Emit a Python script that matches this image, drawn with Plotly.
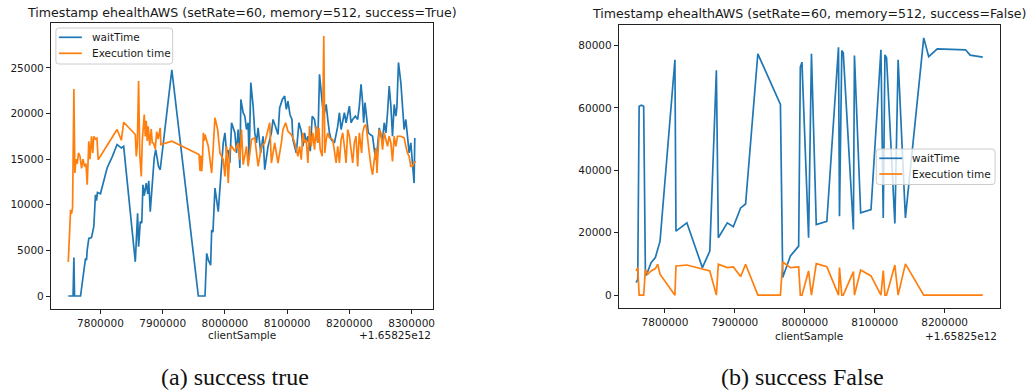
import plotly.graph_objects as go

# ---- sample timestamps are offsets (ms) from BASE_TS ----
BASE_TS_LABEL = "+1.65825e12"

# Left panel: success=True
TRUE_WAIT_X = [
    7748300, 7756000, 7757300, 7758400, 7768000, 7770700, 7774400, 7776000, 7777600, 7778700,
    7781300, 7785600, 7789300, 7792000, 7793600, 7795200, 7800000, 7810700, 7819200, 7826700,
    7833600, 7837300, 7856000, 7859700, 7861300, 7864000, 7866400, 7868300, 7870400, 7873600,
    7876000, 7877600, 7880000, 7883700, 7886400, 7888800, 7891200, 7893300, 7896000, 7914700,
    7957300, 7968000, 7970700, 7973600, 7977100, 7978700, 7980800, 7984000, 7989300, 7993600,
    7997300, 8000000, 8002700, 8005300, 8008000, 8010700, 8016000, 8018700, 8021300, 8024000,
    8025600, 8029300, 8032000, 8034700, 8037300, 8038900, 8041600, 8045300, 8048000, 8050700,
    8053300, 8057600, 8061300, 8064000, 8069300, 8074700, 8077300, 8081100, 8085300, 8088000,
    8092300, 8096000, 8098700, 8101300, 8104500, 8107700, 8109300, 8114700, 8118900, 8122700,
    8125300, 8128000, 8130700, 8133300, 8137100, 8140300, 8144000, 8146700, 8149300, 8152000,
    8154700, 8157300, 8160000, 8162700, 8165300, 8168000, 8170700, 8176000, 8181300, 8184000,
    8186700, 8189300, 8192000, 8194700, 8200000, 8202700, 8205300, 8209600, 8213300, 8216000,
    8218700, 8221300, 8222900, 8225100, 8227700, 8230400, 8233600, 8237300, 8240000, 8242700,
    8245300, 8248000, 8250700, 8253300, 8256000, 8258700, 8261300, 8264000, 8266700, 8269300,
    8272000, 8274700, 8276300, 8278900, 8282700, 8285300, 8288000, 8290700, 8293300, 8296000,
    8298700, 8301300, 8304000, 8305100,
]
TRUE_WAIT = [
    0, 0, 4220, 0, 0, 1360, 3000, 4120, 3930, 5030,
    6320, 6400, 7600, 11090, 10450, 11350, 11200, 14030, 15300, 16600,
    16230, 16410, 3750, 9070, 5400, 8150, 8000, 12190, 11000, 12380,
    11200, 12630, 9250, 12380, 15130, 16050, 15000, 14200, 13840, 24780,
    0, 0, 4670, 3900, 3380, 7230, 7000, 11830, 9250, 13480,
    16780, 17880, 15680, 16000, 14580, 18990, 17880, 15680, 18250, 14030,
    21550, 20090, 19710, 18250, 18990, 14950, 23390, 20820, 17880, 16780,
    18430, 15680, 17510, 13840, 16410, 17880, 19350, 18610, 17700, 20640,
    21550, 21920, 20460, 21370, 19900, 19350, 17150, 15680, 19000, 18070,
    16410, 17880, 16780, 17510, 15870, 19710, 19350, 17880, 16780, 24310,
    22650, 20460, 20090, 21000, 19350, 17880, 17150, 16780, 18610, 20090,
    18250, 19350, 20090, 18990, 20820, 18990, 19350, 19720, 19350, 20820,
    23200, 21190, 19000, 21190, 19350, 17880, 17700, 17510, 16050, 14950,
    16410, 18430, 17510, 17150, 18990, 17880, 20090, 23020, 20820, 17510,
    21000, 19710, 20640, 25590, 23390, 20820, 18250, 19350, 17510, 15680,
    16780, 14950, 12380, 17330,
]

TRUE_EXEC_X = [
    7748300, 7750400, 7752000, 7753600, 7755200, 7757300, 7758900, 7760800, 7762700, 7764800,
    7767200, 7769600, 7772000, 7774400, 7776800, 7778700, 7781300, 7783200, 7785600, 7787700,
    7789300, 7792000, 7794400, 7796300, 7826700, 7833600, 7837300, 7856000, 7857600, 7859200,
    7861300, 7863200, 7865600, 7867200, 7868800, 7870400, 7872000, 7873600, 7875200, 7876800,
    7879200, 7881600, 7883200, 7885300, 7888000, 7890400, 7892800, 7896000, 7897100, 7914700,
    7958400, 7960000, 7961300, 7962700, 7964000, 7965300, 7966900, 7968000, 7973300, 7978700,
    7981300, 7984000, 7988300, 7992000, 7997300, 8000000, 8002700, 8005300, 8008000, 8010700,
    8016000, 8021300, 8024000, 8026700, 8029300, 8034700, 8037300, 8042700, 8048000, 8053300,
    8058700, 8064000, 8072000, 8074700, 8080000, 8085300, 8090700, 8093300, 8097600, 8101300,
    8106700, 8110400, 8113600, 8117300, 8120000, 8122700, 8125300, 8128000, 8130700, 8133300,
    8136000, 8138700, 8141300, 8144000, 8146700, 8149300, 8150900, 8153100, 8156300, 8158900,
    8160500, 8162700, 8165300, 8168000, 8173300, 8178700, 8181300, 8184000, 8186700, 8189300,
    8192000, 8194700, 8197300, 8200000, 8205300, 8208000, 8210700, 8213300, 8216000, 8217600,
    8219700, 8221300, 8224000, 8226700, 8229300, 8232000, 8234700, 8237300, 8240000, 8242700,
    8244300, 8246400, 8248000, 8250700, 8253300, 8256000, 8258700, 8261300, 8264000, 8266700,
    8269300, 8272000, 8274700, 8277300, 8282700, 8288000, 8290700, 8293300, 8296000, 8298700,
    8301300, 8304000, 8306700,
]
TRUE_EXEC = [
    3745, 7500, 9440, 9000, 9700, 22700, 13480, 15000, 14500, 15680,
    15300, 14000, 15000, 14200, 14500, 12190, 16960, 15000, 17500, 15680,
    17500, 17200, 17300, 14940, 18250, 17070, 19050, 17700, 15300, 16500,
    23570, 15500, 13100, 17000, 18500, 19900, 17500, 19200, 17000, 18600,
    16500, 18300, 16800, 16780, 16100, 18000, 17200, 18430, 16600, 16960,
    15500, 13700, 15400, 13650, 15000, 17880, 17000, 17700, 16410, 13480,
    16410, 19540, 18250, 15680, 14950, 13110, 16410, 12380, 16050, 16410,
    15870, 16780, 14950, 18250, 14400, 16410, 14220, 17150, 17330, 14220,
    16410, 16780, 18990, 14580, 16780, 14580, 16780, 18250, 18990, 18060,
    17700, 17150, 16410, 15310, 16410, 14940, 17880, 16780, 17150, 14580,
    18620, 16410, 17880, 16050, 18620, 16780, 18430, 16050, 15310, 28500,
    15680, 17150, 17880, 17330, 17150, 14580, 16410, 14580, 17150, 17880,
    16410, 14580, 18250, 17510, 14580, 16780, 17510, 14200, 17880, 17150,
    15680, 17880, 18610, 18800, 17510, 15680, 14200, 13290, 14940, 16230,
    13480, 16050, 18250, 17880, 16050, 17880, 17150, 16410, 17510, 16780,
    14760, 17510, 16410, 17510, 17510, 17330, 16410, 15680, 15310, 14200,
    14200, 14580, 14760,
]

# Right panel: success=False (shared sample times)
FALSE_X = [
    7758700, 7761000, 7763000, 7766300, 7769500, 7772000, 7775200, 7780100, 7786200, 7789500,
    7792900, 7814200, 7815700, 7831300, 7853500, 7864100, 7873500, 7876300, 7889100, 7897700,
    7908200, 7915300, 7932800, 7965100, 7968400, 7979400, 7991200, 7993600, 7995900, 8005400,
    8009500, 8016400, 8031500, 8048200, 8049600, 8052900, 8055000, 8069500, 8071000, 8079900,
    8094700, 8108900, 8112200, 8114600, 8116900, 8128800, 8133500, 8143900, 8170100, 8177200,
    8189500, 8229900, 8233200, 8236500, 8254500,
]
FALSE_WAIT = [
    4050, 5000, 60550, 60870, 60550, 6150, 7500, 10420, 12010, 14500,
    17310, 75430, 20500, 23170, 8820, 14120, 72030, 18390, 23170, 21900,
    27950, 29220, 77350, 61100, 5640, 12530, 15710, 73080, 74670, 18390,
    77350, 22630, 23680, 79460, 25270, 78400, 77700, 21030, 76810, 26350,
    27410, 78620, 24760, 77030, 76070, 22950, 75430, 24760, 82450, 76400,
    78940, 78620, 77860, 76930, 76270,
]
FALSE_EXEC = [
    7750, 8820, 0, 0, 0, 8290, 6690, 7750, 8500, 9880,
    6690, 0, 9340, 9660, 8300, 7750, 0, 9880, 8820, 9030,
    5960, 9880, 0, 0, 10610, 8820, 9030, 0, 0, 7750,
    0, 10090, 9130, 0, 8820, 0, 0, 7560, 0, 8070,
    6150, 0, 7870, 0, 0, 9660, 0, 10010, 0, 0,
    0, 0, 0, 0, 0,
]

TITLES = [
    "Timestamp ehealthAWS (setRate=60, memory=512, success=True)",
    "Timestamp ehealthAWS (setRate=60, memory=512, success=False)",
]
CAPTIONS = ["(a) success true", "(b) success False"]
SERIES_NAMES = ["waitTime", "Execution time"]

BLUE = "#1f77b4"
ORANGE = "#ff7f0e"
COLORS = [BLUE, ORANGE]
LINE_W = 1.7
W, H = 1031, 392
SANS = "DejaVu Sans"
SERIF = "Liberation Serif"
INK = "#1a1a1a"


def px_x(p):
    return p / W


def px_y(p):
    return 1 - p / H


fig = go.Figure()

fig.add_trace(go.Scatter(x=TRUE_WAIT_X, y=TRUE_WAIT, mode="lines", name=SERIES_NAMES[0],
                         line=dict(color=BLUE, width=LINE_W), xaxis="x", yaxis="y"))
fig.add_trace(go.Scatter(x=TRUE_EXEC_X, y=TRUE_EXEC, mode="lines", name=SERIES_NAMES[1],
                         line=dict(color=ORANGE, width=LINE_W), xaxis="x", yaxis="y"))
fig.add_trace(go.Scatter(x=FALSE_X, y=FALSE_WAIT, mode="lines", name=SERIES_NAMES[0],
                         line=dict(color=BLUE, width=LINE_W), xaxis="x2", yaxis="y2"))
fig.add_trace(go.Scatter(x=FALSE_X, y=FALSE_EXEC, mode="lines", name=SERIES_NAMES[1],
                         line=dict(color=ORANGE, width=LINE_W), xaxis="x2", yaxis="y2"))


def axis_style(**kw):
    base = dict(showline=True, mirror=True, linecolor="#222", linewidth=1,
                showgrid=False, zeroline=False, ticks="outside", ticklen=4,
                tickcolor="#222", tickwidth=1, tickformat="d",
                tickfont=dict(family=SANS, size=10.5, color=INK))
    base.update(kw)
    return base


def padded(lo, hi):
    m = (hi - lo) * 0.05
    return [lo - m, hi + m]


left_x_rng = padded(min(TRUE_WAIT_X + TRUE_EXEC_X), max(TRUE_WAIT_X + TRUE_EXEC_X))
left_y_rng = padded(min(TRUE_WAIT + TRUE_EXEC), max(TRUE_WAIT + TRUE_EXEC))
right_x_rng = padded(min(FALSE_X), max(FALSE_X))
right_y_rng = padded(min(FALSE_WAIT + FALSE_EXEC), max(FALSE_WAIT + FALSE_EXEC))

fig.update_layout(
    width=W, height=H,
    margin=dict(l=0, r=0, t=0, b=0),
    paper_bgcolor="white", plot_bgcolor="white",
    showlegend=False,
    xaxis=axis_style(domain=[px_x(51), px_x(434)], range=left_x_rng, tick0=0, dtick=100000, anchor="y"),
    yaxis=axis_style(domain=[px_y(309), px_y(23)], range=left_y_rng, tick0=0, dtick=5000, anchor="x"),
    xaxis2=axis_style(domain=[px_x(620), px_x(1002)], range=right_x_rng, tick0=0, dtick=100000, anchor="y2"),
    yaxis2=axis_style(domain=[px_y(308), px_y(25)], range=right_y_rng, tick0=0, dtick=20000, anchor="x2"),
)

annotations = [
    # panel titles
    dict(text=TITLES[0], x=px_x(242.5), y=px_y(12.5), font=dict(family=SANS, size=12.6, color=INK)),
    dict(text=TITLES[1], x=px_x(811), y=px_y(14), font=dict(family=SANS, size=12.6, color=INK)),
    # x-axis labels
    dict(text="clientSample", x=px_x(242), y=px_y(335), font=dict(family=SANS, size=10.5, color=INK)),
    dict(text="clientSample", x=px_x(811), y=px_y(335.5), font=dict(family=SANS, size=10.5, color=INK)),
    # offset labels
    dict(text=BASE_TS_LABEL, x=px_x(434), y=px_y(335), xanchor="right",
         font=dict(family=SANS, size=10.5, color=INK)),
    dict(text=BASE_TS_LABEL, x=px_x(1001), y=px_y(335.5), xanchor="right",
         font=dict(family=SANS, size=10.5, color=INK)),
    # sub-figure captions
    dict(text=CAPTIONS[0], x=px_x(235), y=px_y(377), font=dict(family=SERIF, size=24, color="#111")),
    dict(text=CAPTIONS[1], x=px_x(804), y=px_y(377), font=dict(family=SERIF, size=24, color="#111")),
]

shapes = []


def rounded_box(x0, y0, x1, y1, r=3):
    # path in paper coordinates, pixel inputs
    pts = (f"M {px_x(x0 + r)},{px_y(y0)} L {px_x(x1 - r)},{px_y(y0)} "
           f"Q {px_x(x1)},{px_y(y0)} {px_x(x1)},{px_y(y0 + r)} "
           f"L {px_x(x1)},{px_y(y1 - r)} Q {px_x(x1)},{px_y(y1)} {px_x(x1 - r)},{px_y(y1)} "
           f"L {px_x(x0 + r)},{px_y(y1)} Q {px_x(x0)},{px_y(y1)} {px_x(x0)},{px_y(y1 - r)} "
           f"L {px_x(x0)},{px_y(y0 + r)} Q {px_x(x0)},{px_y(y0)} {px_x(x0 + r)},{px_y(y0)} Z")
    return dict(type="path", path=pts, xref="paper", yref="paper", layer="above",
                fillcolor="rgba(255,255,255,0.8)", line=dict(color="#cccccc", width=1))


def add_legend(box, rows_y, line_x0, line_x1, text_x):
    shapes.append(rounded_box(*box))
    for name, color, ry in zip(SERIES_NAMES, COLORS, rows_y):
        shapes.append(dict(type="line", xref="paper", yref="paper", layer="above",
                           x0=px_x(line_x0), x1=px_x(line_x1), y0=px_y(ry), y1=px_y(ry),
                           line=dict(color=color, width=LINE_W)))
        annotations.append(dict(text=name, x=px_x(text_x), y=px_y(ry), xanchor="left",
                                font=dict(family=SANS, size=10.5, color=INK)))


add_legend((56, 28, 173, 64), (37.3, 53.3), 59, 82, 90.5)
add_legend((878, 149, 997, 184.5), (158.3, 174), 881, 904, 912)

for a in annotations:
    a.setdefault("xanchor", "center")
    a.update(xref="paper", yref="paper", yanchor="middle", showarrow=False)
fig.update_layout(annotations=annotations, shapes=shapes)

fig.write_html("out.html")
